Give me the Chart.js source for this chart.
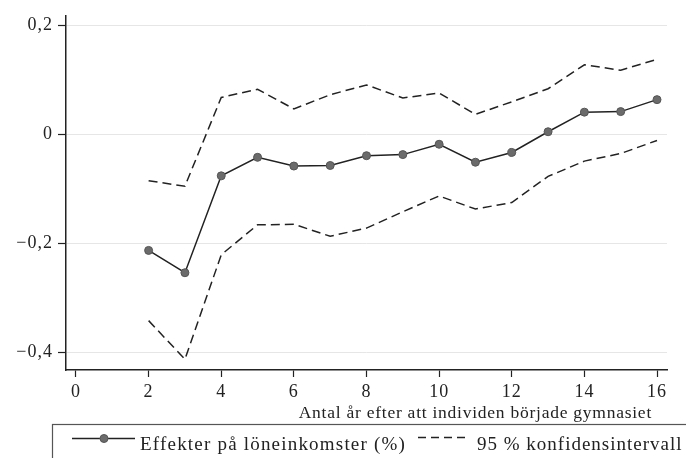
<!DOCTYPE html>
<html>
<head>
<meta charset="utf-8">
<script src="https://cdn.jsdelivr.net/npm/chart.js@4/dist/chart.umd.min.js"></script>
<style>
  html, body { margin: 0; padding: 0; background: #fff; }
  #wrap { width: 686px; height: 458px; position: relative; }
</style>
</head>
<body>
<div id="wrap"><canvas id="c" width="686" height="458"></canvas></div>
<script>
// ---- data ----
const years = [2, 3, 4, 5, 6, 7, 8, 9, 10, 11, 12, 13, 14, 15, 16];
const effect = [-0.213, -0.254, -0.076, -0.042, -0.058, -0.057, -0.039, -0.037, -0.018, -0.051, -0.033, 0.005, 0.041, 0.042, 0.064];
const ciUpper = [-0.085, -0.095, 0.068, 0.083, 0.047, 0.073, 0.091, 0.067, 0.076, 0.037, 0.060, 0.084, 0.128, 0.118, 0.138];
const ciLower = [-0.342, -0.413, -0.221, -0.166, -0.165, -0.187, -0.172, -0.142, -0.113, -0.137, -0.125, -0.077, -0.049, -0.035, -0.011];
const xTicks = [0, 2, 4, 6, 8, 10, 12, 14, 16];
const xTickLabels = ['0', '2', '4', '6', '8', '10', '12', '14', '16'];
const yTicks = [-0.4, -0.2, 0, 0.2];
const yTickLabels = ['\u22120,4', '\u22120,2', '0', '0,2'];
const xTitle = 'Antal år efter att individen började gymnasiet';
const seriesNames = ['Effekter på löneinkomster (%)', '95 % konfidensintervall'];

const FONT = "'Liberation Serif', 'DejaVu Serif', serif";
const INK = '#222';

const pts = arr => years.map((x, i) => ({ x: x, y: arr[i] }));

const spacing = {
  id: 'spacing',
  beforeLayout(chart) { chart.ctx.letterSpacing = '1px'; },
  beforeDraw(chart) { chart.ctx.letterSpacing = '1px'; }
};

const extras = {
  id: 'extras',
  afterDraw(chart) {
    const ctx = chart.ctx;
    const ca = chart.chartArea;
    ctx.save();
    // x-axis title, right aligned
    ctx.font = '17.5px ' + FONT;
    ctx.letterSpacing = '0.75px';
    ctx.fillStyle = INK;
    ctx.textAlign = 'left';
    ctx.textBaseline = 'alphabetic';
    const tw = ctx.measureText(xTitle).width;
    ctx.fillText(xTitle, ca.right - 15 - tw, 418);

    // legend box
    ctx.strokeStyle = '#555';
    ctx.lineWidth = 1.2;
    ctx.strokeRect(52.5, 424.5, 700, 100);

    // legend item 1: line with marker
    ctx.strokeStyle = INK;
    ctx.lineWidth = 1.5;
    ctx.setLineDash([]);
    ctx.beginPath();
    ctx.moveTo(72, 438.5);
    ctx.lineTo(135, 438.5);
    ctx.stroke();
    ctx.beginPath();
    ctx.arc(104, 438.5, 4, 0, Math.PI * 2);
    ctx.fillStyle = '#6b6b6b';
    ctx.fill();
    ctx.lineWidth = 1;
    ctx.strokeStyle = '#555';
    ctx.stroke();

    ctx.font = '19px ' + FONT;
    ctx.letterSpacing = '1.2px';
    ctx.fillStyle = INK;
    ctx.textAlign = 'left';
    ctx.fillText(seriesNames[0], 140, 450);

    // legend item 2: dashed line
    ctx.strokeStyle = INK;
    ctx.lineWidth = 1.5;
    ctx.setLineDash([8, 5]);
    ctx.beginPath();
    ctx.moveTo(418, 437.5);
    ctx.lineTo(467, 437.5);
    ctx.stroke();
    ctx.setLineDash([]);
    ctx.letterSpacing = '1px';
    ctx.fillText(seriesNames[1], 477, 450);
    ctx.restore();
  }
};

new Chart(document.getElementById('c'), {
  type: 'line',
  data: {
    datasets: [
      {
        label: seriesNames[0],
        data: pts(effect),
        borderColor: INK,
        borderWidth: 1.5,
        pointRadius: 4,
        pointBackgroundColor: '#6b6b6b',
        pointBorderColor: '#555',
        pointBorderWidth: 1,
        tension: 0
      },
      {
        label: seriesNames[1],
        data: pts(ciUpper),
        borderColor: INK,
        borderWidth: 1.5,
        borderDash: [9, 5],
        pointRadius: 0,
        tension: 0
      },
      {
        label: seriesNames[1] + ' (nedre)',
        data: pts(ciLower),
        borderColor: INK,
        borderWidth: 1.5,
        borderDash: [9, 5],
        pointRadius: 0,
        tension: 0
      }
    ]
  },
  options: {
    responsive: false,
    animation: false,
    devicePixelRatio: 1,
    layout: { padding: { top: 12, right: 19, bottom: 0, left: 0 } },
    plugins: {
      legend: { display: false },
      tooltip: { enabled: false },
      title: { display: false }
    },
    scales: {
      x: {
        type: 'linear',
        min: -0.275,
        max: 16.275,
        afterBuildTicks: s => { s.ticks = xTicks.map(v => ({ value: v })); },
        afterFit: s => { s.height = 88; },
        grid: { drawOnChartArea: false, drawTicks: true, tickLength: 7, tickColor: INK, tickWidth: 1.2 },
        border: { display: true, color: INK, width: 1.5 },
        ticks: {
          font: { family: FONT, size: 18 },
          color: INK,
          padding: 4,
          maxRotation: 0,
          callback: v => { const i = xTicks.indexOf(v); return i >= 0 ? xTickLabels[i] : ''; }
        }
      },
      y: {
        min: -0.4327,
        max: 0.218,
        afterBuildTicks: s => { s.ticks = yTicks.map(v => ({ value: v })); },
        afterFit: s => { s.width = 66; },
        grid: { color: '#e6e6e6', lineWidth: 1, drawTicks: true, tickLength: 8, tickColor: INK, tickWidth: 1.2 },
        border: { display: true, color: INK, width: 1.5 },
        ticks: {
          font: { family: FONT, size: 18 },
          color: INK,
          padding: 5,
          callback: v => { const i = yTicks.findIndex(t => Math.abs(t - v) < 1e-9); return i >= 0 ? yTickLabels[i] : ''; }
        }
      }
    }
  },
  plugins: [spacing, extras]
});
</script>
</body>
</html>
